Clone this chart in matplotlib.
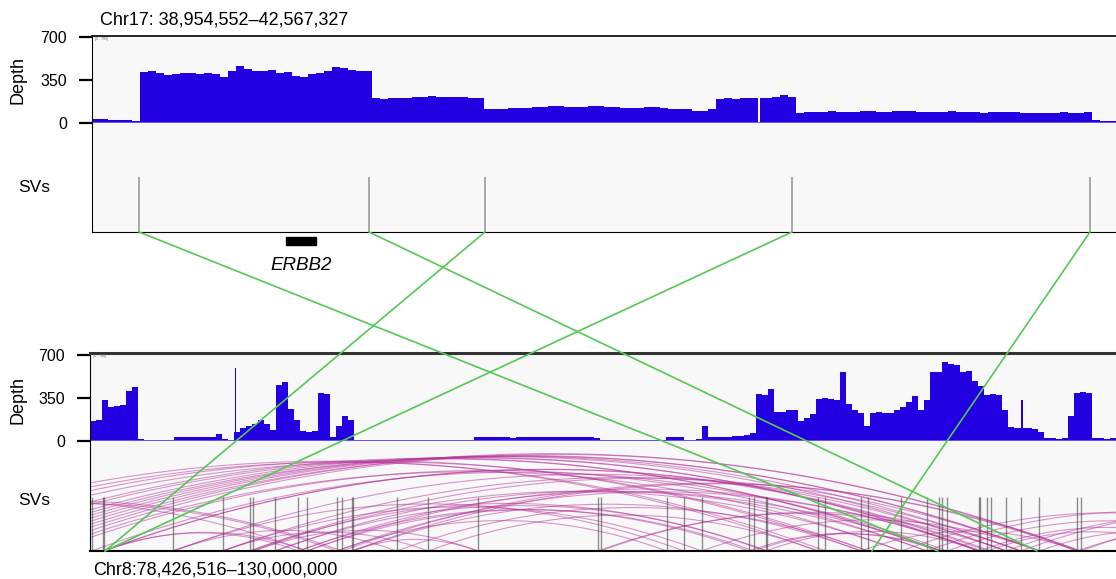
import numpy as np
import matplotlib
matplotlib.use('Agg')
import matplotlib.pyplot as plt
import matplotlib.transforms as mtransforms
from matplotlib.patches import ConnectionPatch, Rectangle

plt.rcParams['font.family'] = ['Liberation Sans', 'DejaVu Sans']

# ---------------- data ----------------
# chr17 window (Mb)
chr17_start, chr17_end = 38.954552, 42.567327
# read depth in 128 equal bins across the chr17 window
chr17_depth = [30, 30, 28, 25, 22, 20,
               415, 420, 405, 390, 395, 405, 410, 400, 405, 395, 372, 420, 462, 440, 425,
               420, 430, 410, 415, 385, 375, 395, 410, 420, 455, 450, 430, 425, 420,
               200, 198, 202, 205, 200, 208, 210, 222, 212, 208, 215, 210, 205, 203,
               118, 112, 115, 120, 122, 125, 128, 130, 135, 140, 132, 128, 130, 135, 140,
               132, 128, 125, 122, 126, 132, 128, 122, 118, 115, 110, 95, 100, 112,
               195, 200, 198, 202, 205, 200,
               205, 215, 225, 215,
               85, 88, 90, 92, 95, 92, 90, 93, 96, 95, 92, 90, 94, 97, 95, 92, 90, 88, 92,
               95, 93, 90, 88, 85, 88, 90, 92, 88, 85, 83, 85, 82, 84, 86, 84, 85, 88,
               22, 15, 20]
# narrow features (start, end, depth)
chr17_narrow = [(41.305, 41.312, 0)]
chr17_svs = [39.1204, 39.9318, 40.3411, 41.4242, 42.4756]
erbb2 = (39.639, 39.745)

# chr8 window (Mb)
chr8_start, chr8_end = 78.426516, 130.0
# read depth in 171 equal bins across the chr8 window
chr8_depth = [165, 171, 330, 280, 285, 290, 410, 440,
              14, 12, 12, 10, 12, 12,
              35, 32, 35, 30, 32, 30, 30,
              60, 15, 10,
              76, 110, 125, 140, 175, 140, 90,
              460, 480, 260, 170, 80, 76, 80, 395, 380,
              35, 120, 200, 170, 10,
              8, 7, 9, 8, 6, 8, 9, 7, 8, 8, 6, 9, 8, 7, 8, 9, 7, 8, 10,
              30,
              32, 30, 35, 33, 30, 28, 32, 34, 31, 30, 33, 35, 32, 30, 29, 31, 34, 32, 30, 28,
              8, 9, 7, 8, 8, 9, 7, 8, 9, 8, 8,
              30, 35, 32, 10, 10, 20,
              120, 35, 36, 34, 35, 38, 40, 45, 65,
              385, 375, 420, 240, 235, 250, 250, 160, 185, 220, 340, 350, 345, 330,
              560, 300, 250, 230, 120, 225, 235, 230, 225, 250, 280, 320, 365, 250,
              330, 560, 560, 640, 630, 620, 560, 570, 490, 450, 378, 380, 375,
              250, 112, 108, 110, 105, 100, 70, 25, 22, 20, 25, 200, 390, 400, 395, 25, 22, 20, 22]
chr8_narrow = [(85.69, 85.79, 592), (125.23, 125.33, 335)]
chr8_svs = [78.512, 79.065, 79.130, 82.614, 85.097, 86.469, 86.635, 87.726, 88.897,
            89.319, 90.827, 91.079, 91.581, 91.662, 93.843, 95.432, 97.930, 103.962,
            104.088, 107.415, 108.285, 109.175, 111.552, 111.804, 112.392, 112.472,
            115.036, 115.373, 117.182, 117.549, 119.193, 120.485, 121.118, 121.239,
            121.520, 123.114, 123.164, 123.531, 123.702, 124.471, 125.210, 126.145,
            128.055, 128.226]
# chr8 SV arcs (breakpoint pairs, Mb)
chr8_arcs = [(70.5, 121.1), (71.0, 121.2), (72.0, 123.1), (72.5, 123.2), (73.0, 124.5),
             (73.5, 125.2), (74.0, 126.1), (74.5, 126.2), (75.0, 128.1), (75.5, 128.2),
             (76.0, 119.2), (76.5, 120.5), (68.0, 117.2), (69.0, 117.5), (66.0, 115.0),
             (67.0, 115.4),
             (78.51, 121.52), (79.07, 123.53), (79.13, 123.70), (82.61, 124.47),
             (85.10, 125.21), (86.47, 126.15), (86.64, 119.19), (87.73, 120.49),
             (88.90, 121.24), (89.32, 123.11), (90.83, 123.16), (91.08, 128.06),
             (91.58, 128.23), (91.66, 117.18), (93.84, 117.55), (95.43, 115.04),
             (86.47, 112.39), (87.73, 112.47), (88.90, 111.55), (89.32, 111.80),
             (85.10, 109.18), (82.61, 108.29), (90.83, 107.42),
             (62.0, 89.32), (64.0, 91.08), (65.0, 90.83), (79.07, 88.90), (79.13, 89.32),
             (82.61, 93.84), (85.10, 95.43), (86.64, 97.93), (91.58, 97.93),
             (111.55, 121.12), (111.80, 121.24), (112.39, 123.11), (117.18, 128.06),
             (119.19, 140.0), (120.49, 142.0), (121.52, 138.0), (123.11, 136.0),
             (123.53, 134.0), (124.47, 145.0), (125.21, 150.0), (126.15, 137.0),
             (128.06, 140.0), (128.23, 155.0),
             (103.96, 124.47), (104.09, 125.21), (109.18, 126.15)]

# translocation links chr17 -> chr8
links_chr17 = [39.1204, 39.9318, 40.3411, 41.4242, 42.4756]
links_chr8 = [121.05, 126.03, 79.18, 79.18, 117.73]

BLUE = '#2200e2'
BG = '#f8f8f8'
GREEN = '#55c855'
ARC = '#b5329a'


def add_narrow(edges, vals, narrow):
    # split bins where a narrow peak/dropout sits inside
    e = list(edges)
    v = list(vals)
    for a, b, d in narrow:
        i = int(np.searchsorted(e, a)) - 1
        e[i + 1:i + 1] = [a, b]
        v[i + 1:i + 1] = [d, v[i]]
    return e, v


def depth_track(ax, start, end, depth, narrow, ymax):
    edges = np.linspace(start, end, len(depth) + 1)
    e, v = add_narrow(edges, depth, narrow)
    ax.stairs(v, e, fill=True, color=BLUE, baseline=0, lw=0)
    ax.axhline(0, color='#6a5cff', lw=1.3)
    ax.set_xlim(start, end)
    ax.set_ylim(0, ymax)
    ax.set_facecolor(BG)
    ax.set_xticks([])
    ax.set_yticks([0, 350, 700])
    ax.tick_params(axis='y', length=9.5, width=1.6, pad=8.5, labelsize=11.5)
    ax.spines['right'].set_visible(False)
    ax.spines['bottom'].set_visible(False)
    ax.text(0.003, 0.985, '[0 - 700]', transform=ax.transAxes, fontsize=2.5,
            color='#666', va='top')


def sv_track(ax, start, end):
    ax.set_xlim(start, end)
    ax.set_ylim(0, 1)
    ax.set_facecolor(BG)
    ax.set_xticks([])
    ax.set_yticks([])
    ax.spines['right'].set_visible(False)
    ax.spines['top'].set_visible(False)


fig = plt.figure(figsize=(11.16, 5.79), dpi=100)

# ---- chr17 ----
ax1 = fig.add_axes([0.08244, 0.78756, 0.91756, 0.15026])
depth_track(ax1, chr17_start, chr17_end, chr17_depth, chr17_narrow, 708)
ax1.spines['top'].set_linewidth(1.2)

ax2 = fig.add_axes([0.08244, 0.59931, 0.91756, 0.18826])
sv_track(ax2, chr17_start, chr17_end)
ax2.vlines(chr17_svs, 0, 0.505, color='#9a9a9a', lw=1.2)

trans = mtransforms.blended_transform_factory(ax2.transData, ax2.transAxes)
ax2.add_patch(Rectangle((erbb2[0], -0.119), erbb2[1] - erbb2[0], 0.073,
                        transform=trans, color='black', clip_on=False))
ax2.text((erbb2[0] + erbb2[1]) / 2, -0.31, 'ERBB2', transform=trans,
         fontsize=13.5, style='italic', ha='center', va='center')

# ---- chr8 ----
ax3 = fig.add_axes([0.08065, 0.23834, 0.91935, 0.15199])
depth_track(ax3, chr8_start, chr8_end, chr8_depth, chr8_narrow, 717)
ax3.spines['top'].set_linewidth(2.2)
ax3.spines['top'].set_color('#333333')

ax4 = fig.add_axes([0.08065, 0.04836, 0.91935, 0.18998])
sv_track(ax4, chr8_start, chr8_end)
ax4.spines['bottom'].set_linewidth(1.5)
u = np.linspace(-1, 1, 300)
for a, b in chr8_arcs:
    c = (a + b) / 2
    r = (b - a) / 2
    h = (b - a) / 60.0
    ax4.plot(c + r * u, h * (1 - u ** 2), color=ARC, alpha=0.5, lw=0.8)
ax4.vlines(chr8_svs, 0, 0.49, color='#444444', alpha=0.6, lw=1.0)

# ---- links ----
for p17, p8 in zip(links_chr17, links_chr8):
    con = ConnectionPatch(xyA=(p17, 0), coordsA=ax2.transData,
                          xyB=(p8, 0), coordsB=ax4.transData,
                          color=GREEN, lw=1.2, zorder=10)
    fig.add_artist(con)

# ---- labels ----
fig.text(0.0896, 0.9655, 'Chr17: 38,954,552\u201342,567,327', fontsize=13, va='center')
fig.text(0.0833, 0.0155, 'Chr8:78,426,516\u2013130,000,000', fontsize=13, va='center')
fig.text(0.0161, 0.8618, 'Depth', rotation=90, fontsize=13, ha='center', va='center')
fig.text(0.0161, 0.3092, 'Depth', rotation=90, fontsize=13, ha='center', va='center')
fig.text(0.0305, 0.677, 'SVs', fontsize=12.5, ha='center', va='center')
fig.text(0.0305, 0.1364, 'SVs', fontsize=12.5, ha='center', va='center')

fig.savefig('out.png', dpi=100)
